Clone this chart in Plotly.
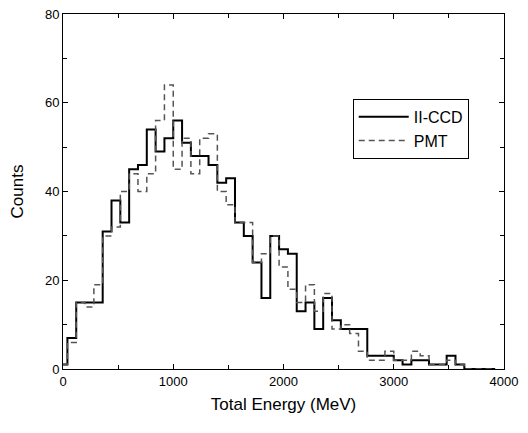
import numpy as np
import plotly.graph_objects as go

# Histogram data (bin width 80 MeV, bins centred on multiples of 80 MeV)
bin_width = 80
iiccd_counts = [1, 7, 15, 15, 15, 31, 38, 33, 45, 46,
                54, 49, 52, 56, 51, 48, 48, 46, 42, 43,
                33, 30, 24, 16, 30, 27, 26, 13, 15, 9,
                16, 11, 9, 9, 9, 3, 3, 3, 2, 1,
                2, 2, 1, 1, 3, 1, 0, 0, 0, 0]
pmt_counts = [1, 6, 15, 14, 19, 30, 32, 40, 44, 40,
              44, 56, 64, 45, 52, 44, 52, 53, 40, 37,
              33, 33, 24, 26, 30, 23, 18, 15, 19, 13,
              17, 9, 10, 8, 4, 2, 2, 4, 2, 2,
              4, 3, 1, 1, 2, 1, 0, 0, 0, 0]
series_names = ["II-CCD", "PMT"]
x_tickvals = [0, 1000, 2000, 3000, 4000]
y_tickvals = [0, 20, 40, 60, 80]

centers = np.arange(len(iiccd_counts)) * bin_width

FONT = "Liberation Sans, Arial, sans-serif"

fig = go.Figure()
fig.add_trace(go.Scatter(
    x=centers, y=iiccd_counts, mode="lines", name=series_names[0],
    line=dict(color="black", width=2, shape="hvh"),
))
fig.add_trace(go.Scatter(
    x=centers, y=pmt_counts, mode="lines", name=series_names[1],
    line=dict(color="#555555", width=1.5, shape="hvh", dash="6px,4px"),
))

axis_common = dict(
    showline=True, linecolor="black", linewidth=1, mirror="ticks",
    ticks="inside", ticklen=5, tickwidth=1, tickcolor="black",
    showgrid=False, zeroline=False, automargin=False,
    ticklabeloverflow="allow",
    tickfont=dict(family=FONT, size=13, color="black"),
    title_font=dict(family=FONT, size=17, color="black"),
)

fig.update_xaxes(
    range=[0, 4000], tickvals=x_tickvals,
    minor=dict(dtick=500, ticks="inside", ticklen=4, tickcolor="black", showgrid=False),
    title_text="Total Energy (MeV)", title_standoff=10,
    **axis_common,
)
fig.update_yaxes(
    range=[0, 80], tickvals=y_tickvals,
    minor=dict(dtick=10, ticks="inside", ticklen=4, tickcolor="black", showgrid=False),
    title_text="Counts", title_standoff=19,
    **axis_common,
)

fig.update_layout(
    width=520, height=425,
    margin=dict(l=54.5, r=23.5, t=6, b=63.5),
    paper_bgcolor="white", plot_bgcolor="white",
    font=dict(family=FONT, color="black"),
    legend=dict(
        x=0.657, y=0.761, xanchor="left", yanchor="top",
        bordercolor="black", borderwidth=1, bgcolor="white",
        font=dict(size=16, color="black"),
        itemwidth=50, tracegroupgap=0,
    ),
)

fig.write_html("out.html")
